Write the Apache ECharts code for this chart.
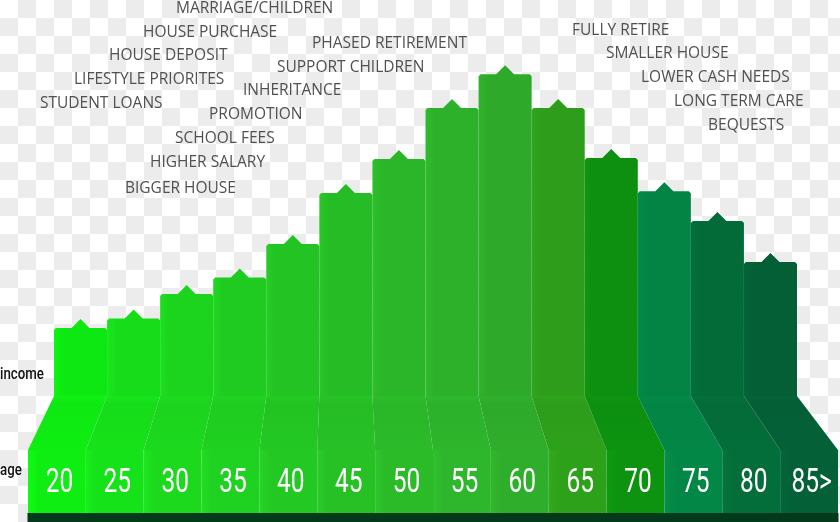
<!DOCTYPE html>
<html><head><meta charset="utf-8">
<script src="https://cdn.jsdelivr.net/npm/echarts@6/dist/echarts.min.js"></script>
<style>
html,body{margin:0;padding:0;}
body{width:840px;height:522px;background-color:#fff;
background-image:linear-gradient(45deg,#ececec 25%,transparent 25%,transparent 75%,#ececec 75%),linear-gradient(45deg,#ececec 25%,transparent 25%,transparent 75%,#ececec 75%);
background-size:36px 36px;background-position:0 0,18px 18px;}
#c{width:840px;height:522px;}
</style></head><body><div id="c"></div>
<script>
// ---- data ----
const ages = ['20','25','30','35','40','45','50','55','60','65','70','75','80','85>'];
const income = [18.9, 21.5, 28.3, 32.9, 42.2, 56.4, 65.8, 80.0, 89.4, 80.0, 66.1, 56.9, 48.6, 37.2];
const notesEarly = ['MARRIAGE/CHILDREN','HOUSE PURCHASE','HOUSE DEPOSIT','LIFESTYLE PRIORITES','STUDENT LOANS'];
const notesMid = ['PROMOTION','SCHOOL FEES','HIGHER SALARY','BIGGER HOUSE'];
const notesPeak = ['PHASED RETIREMENT','SUPPORT CHILDREN','INHERITANCE'];
const notesLate = ['FULLY RETIRE','SMALLER HOUSE','LOWER CASH NEEDS','LONG TERM CARE','BEQUESTS'];
const axisNames = ['income','age'];

// ---- style / layout ----
const palette = ['#0ee812','#16dc19','#1cd31e','#1fcb20','#22c322','#26bc25','#2ab628','#2db12b','#2ea92a','#2d9d1b','#0d8f10','#038444','#036b38','#045f36'];
const GRID = {left:54, width:743, top:36, height:360};
const FLOOR = {left:28, width:810, top:450, faceH:63, bandH:9};
const notePos = {
  early: [[176,9],[143,33],[109,56],[74,80],[40,104]],
  mid: [[209,115],[175,139],[150,163],[125,189]],
  peak: [[312,44],[277,68],[243,91]],
  late: [[572,31],[606,54],[641,78],[674,102],[708,126]]
};
const noteFont = {fontFamily:'"Open Sans", "Noto Sans", sans-serif', fontSize:15.5, fill:'#505050'};
const labelFont = {fontFamily:'Roboto, "Noto Sans", sans-serif', fontSize:34, fill:'#ffffff'};

function lg(a, b) {
  return new echarts.graphic.LinearGradient(0, 0, 1, 0, [
    {offset:0, color:a}, {offset:0.18, color:b}, {offset:1, color:b}
  ]);
}

function renderItem(params, api) {
  const i = api.value(0);
  const top = api.coord([i, api.value(1)]);
  const base = api.coord([i, 0]);
  const w = api.size([1, 0])[0];
  const cx = base[0], x0 = cx - w/2, x1 = cx + w/2;
  const yt = top[1], yb = base[1];
  const cs = params.coordSys;
  const k = FLOOR.width / cs.width;
  const mx = x => FLOOR.left + (x - cs.x) * k;
  const col = palette[i];
  const dark = echarts.color.lift(col, -0.06);
  const faceCol = echarts.color.lift(col, -0.03);
  const bw = 9, bh = 9, r = 2;
  const bx0 = mx(x0), bx1 = mx(x1);
  return {type:'group', children:[
    {type:'polygon', shape:{points:[[x0,yb],[x0,yt+r],[x0+r,yt],[cx-bw,yt],[cx,yt-bh],[cx+bw,yt],[x1-r,yt],[x1,yt+r],[x1,yb]]},
      style:{fill: lg(dark, col)}},
    {type:'polygon', shape:{points:[[x0,yb],[x1,yb],[bx1,FLOOR.top],[bx0,FLOOR.top]]},
      style:{fill: new echarts.graphic.LinearGradient(0,0,0,1,[{offset:0,color:echarts.color.lift(col,-0.05)},{offset:0.15,color:col},{offset:1,color:faceCol}])}},
    {type:'rect', shape:{x:bx0, y:FLOOR.top, width:bx1-bx0, height:FLOOR.faceH},
      style:{fill: lg(echarts.color.lift(faceCol,-0.06), faceCol)}},
    {type:'rect', shape:{x:bx0-0.5, y:FLOOR.top+FLOOR.faceH, width:bx1-bx0+1, height:FLOOR.bandH},
      style:{fill:'#023a1b'}},
    {type:'text', x:(bx0+bx1)/2 + 2.5, y:483.5, scaleX:0.72,
      style:Object.assign({text:ages[i], align:'center', verticalAlign:'middle'}, labelFont)}
  ]};
}

function noteTexts(list, pos) {
  return list.map((t, j) => ({type:'text', x:pos[j][0], y:pos[j][1],
    style:Object.assign({text:t, verticalAlign:'middle', align:'left'}, noteFont)}));
}

const chart = echarts.init(document.getElementById('c'), null, {renderer:'canvas'});
chart.setOption({
  backgroundColor:'transparent',
  animation:false,
  grid:[{left:GRID.left, width:GRID.width, top:GRID.top, height:GRID.height}],
  xAxis:[{type:'category', data:ages, gridIndex:0, show:false}],
  yAxis:[{type:'value', min:0, max:100, gridIndex:0, show:false}],
  series:[{
    type:'custom', xAxisIndex:0, yAxisIndex:0,
    renderItem: renderItem,
    encode:{x:0, y:1},
    data: income.map((v, i) => [i, v])
  }],
  graphic: [].concat(
    noteTexts(notesEarly, notePos.early),
    noteTexts(notesMid, notePos.mid),
    noteTexts(notesPeak, notePos.peak),
    noteTexts(notesLate, notePos.late),
    [
      {type:'text', x:0, y:375, scaleX:0.78, style:{text:axisNames[0], verticalAlign:'middle', fontFamily:'Roboto, sans-serif', fontWeight:500, fontSize:17, fill:'#111'}},
      {type:'text', x:0, y:471, scaleX:0.78, style:{text:axisNames[1], verticalAlign:'middle', fontFamily:'Roboto, sans-serif', fontWeight:500, fontSize:17, fill:'#111'}}
    ]
  )
});
</script>
</body></html>
